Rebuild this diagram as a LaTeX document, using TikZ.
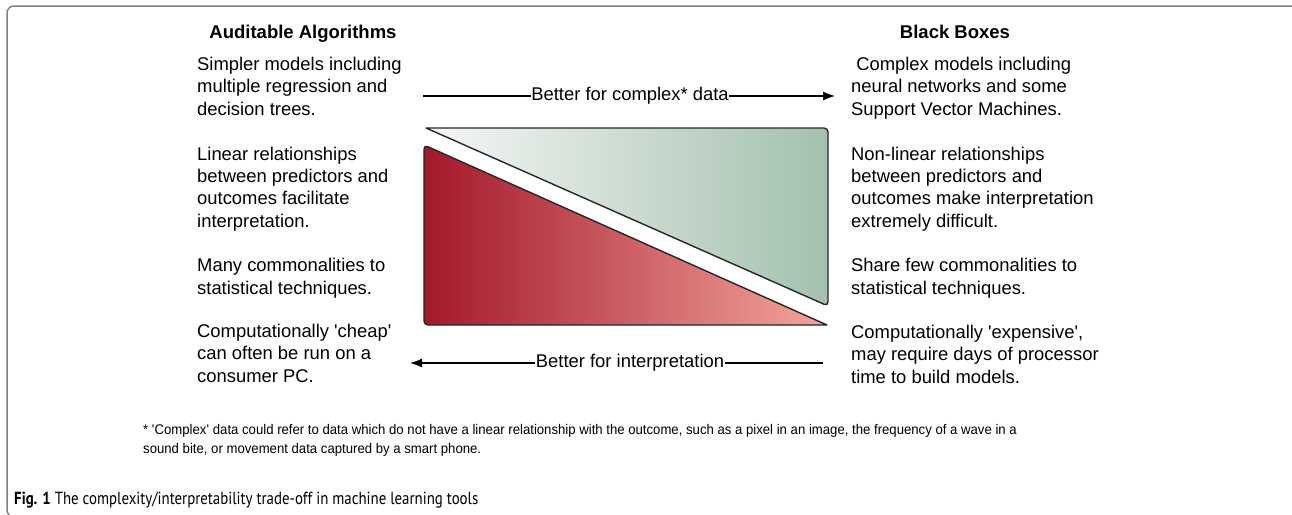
\documentclass[tikz,border=0pt]{standalone}
\usepackage{fontspec}
\setmainfont{Liberation Sans}
\newfontfamily\notefont{Liberation Sans}[FakeStretch=0.94]
\newfontfamily\capfont{PT Sans}[FakeStretch=0.85]
\usetikzlibrary{arrows.meta, positioning}

\definecolor{greenleft}{HTML}{F6F7F6}
\definecolor{greenmid}{HTML}{C2D8CA}
\definecolor{greenright}{HTML}{A3C1AE}
\definecolor{redleft}{HTML}{A3182C}
\definecolor{redmid}{HTML}{BF4F5C}
\definecolor{redright}{HTML}{F3A59D}

\tikzstyle{frame} = [draw=black!50, line width=1.5pt, rounded corners=7pt]
\tikzstyle{heading} = [font=\bfseries\fontsize{18.5}{20}\selectfont, anchor=base, inner sep=0pt]
\tikzstyle{block} = [font=\fontsize{18.4}{22.3}\selectfont, align=left, anchor=base west, inner sep=0pt]
\tikzstyle{direction} = [font=\fontsize{18.4}{20}\selectfont, inner sep=0.5pt]
\tikzstyle{arrow} = [line width=1.2pt, -{Latex[length=12pt,width=9pt]}]
\tikzstyle{wedge} = [draw=black!85, line width=1.4pt, line join=round]
\tikzstyle{note} = [font=\notefont\fontsize{14}{18.5}\selectfont, align=left, anchor=base west, inner sep=0pt]
\tikzstyle{caption} = [font=\capfont\fontsize{17.5}{20}\selectfont, anchor=base west, inner sep=0pt]

\begin{document}
\begin{tikzpicture}[x=1pt, y=-1pt]
\clip (0,0) rectangle (1292,514);
\draw [frame] (7,6) rectangle (1330,517);

\node (auditable) [heading] at (303,38) {Auditable Algorithms};
\node (black boxes) [heading] at (955,38) {Black Boxes};

% blocks sit on the baseline of their last line
\node (simpler) [block] at (197,115) {Simpler models including\\multiple regression and\\decision trees.};
\node (linear) [block] at (197,227) {Linear relationships\\between predictors and\\outcomes facilitate\\interpretation.};
\node (commonalities) [block] at (197,294) {Many commonalities to\\statistical techniques.};
\node (cheap) [block] at (197,382) {Computationally \textquotesingle cheap\textquotesingle\\can often be run on a\\consumer PC.};

\node (complex models) [block] at (851,115) {\ Complex models including\\neural networks and some\\Support Vector Machines.};
\node (nonlinear) [block] at (851,227) {Non-linear relationships\\between predictors and\\outcomes make interpretation\\extremely difficult.};
\node (few commonalities) [block] at (851,294) {Share few commonalities to\\statistical techniques.};
\node (expensive) [block] at (851,383) {Computationally \textquotesingle expensive\textquotesingle,\\may require days of processor\\time to build models.};

% direction arrows
\node (better complex) [direction] at (630,96) {Better for complex* data};
\coordinate (complex from) at (423,96);
\coordinate (complex to) at (835,96);
\draw [line width=1.2pt] (complex from) -- (better complex);
\draw [arrow] (better complex) -- (complex to);

\node (better interp) [direction] at (630,363) {Better for interpretation};
\coordinate (interp from) at (823,363);
\coordinate (interp to) at (410,363);
\draw [line width=1.2pt] (interp from) -- (better interp);
\draw [arrow] (better interp) -- (interp to);

% the two wedges
\draw [wedge, left color=greenleft, middle color=greenmid, right color=greenright]
  (426,128) [rounded corners=4pt] -- (828,128) -- (828,306) [sharp corners] -- cycle;
\draw [wedge, left color=redleft, middle color=redmid, right color=redright]
  (827,325) [rounded corners=4pt] -- (424,325) -- (424,145) [sharp corners] -- cycle;

\node (footnote) [note] at (143,453) {* \textquotesingle Complex\textquotesingle\ data could refer to data which do not have a linear relationship with the outcome, such as a pixel in an image, the frequency of a wave in a\\sound bite, or movement data captured by a smart phone.};

\node (caption) [caption] at (14,504) {\textbf{Fig. 1} The complexity/interpretability trade-off in machine learning tools};
\end{tikzpicture}
\end{document}
